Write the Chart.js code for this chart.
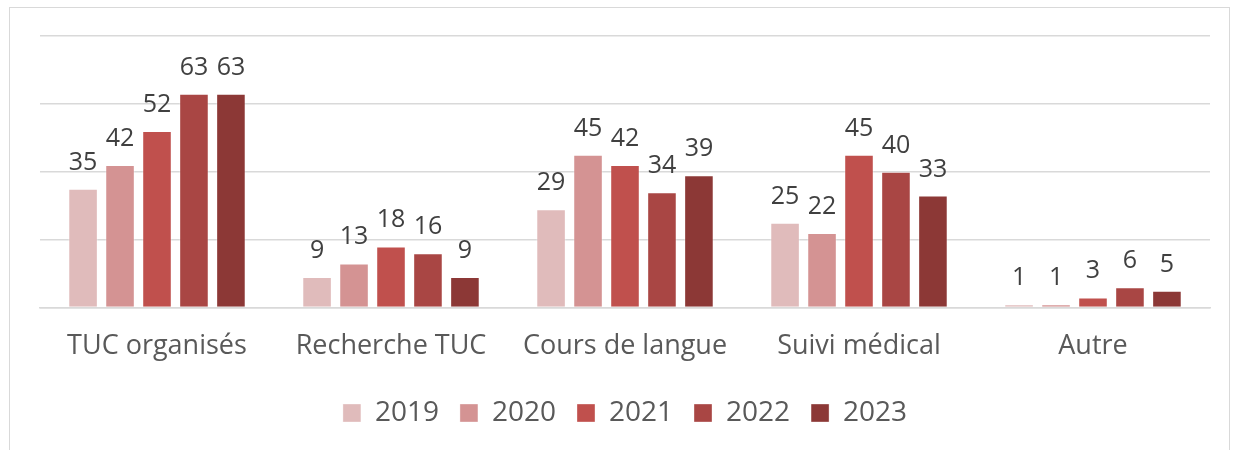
<!DOCTYPE html>
<html lang="fr">
<head>
<meta charset="utf-8">
<title>Accompagnement 2019-2023</title>
<script src="https://cdn.jsdelivr.net/npm/chart.js@4"></script>
<style>
  html, body { margin: 0; padding: 0; background: #fff; }
  .frame {
    position: absolute; left: 9px; top: 7px; width: 1219px; height: 460px;
    border-left: 1px solid #D9D9D9; border-top: 1px solid #D9D9D9; border-right: 1px solid #D9D9D9;
  }
  .wrap { position: absolute; left: 0; top: 0; width: 1235px; height: 450px; }
</style>
</head>
<body>
<div class="frame"></div>
<div class="wrap"><canvas id="chart" width="1235" height="450"></canvas></div>
<script>
//  DATA

const categories = ['TUC organisés', 'Recherche TUC', 'Cours de langue', 'Suivi médical', 'Autre'];
const years      = ['2019', '2020', '2021', '2022', '2023'];

const v2019 = [35,  9, 29, 25, 1];
const v2020 = [42, 13, 45, 22, 1];
const v2021 = [52, 18, 42, 45, 3];
const v2022 = [63, 16, 34, 40, 6];
const v2023 = [63,  9, 39, 33, 5];

const colours = ['#E0BBBB', '#D49393', '#C0504D', '#A94644', '#8C3836'];
const FONT    = 'Open Sans';

//  VALUE LABELS (drawn above each bar)

const valueLabels = {
  id: 'valueLabels',
  afterDatasetsDraw(chart) {
    const ctx = chart.ctx;
    ctx.save();
    ctx.font = `25px "${FONT}"`;
    ctx.fillStyle = '#404040';
    ctx.textAlign = 'center';
    ctx.textBaseline = 'alphabetic';
    chart.data.datasets.forEach((ds, i) => {
      chart.getDatasetMeta(i).data.forEach((bar, j) => {
        ctx.fillText(String(ds.data[j]), bar.x, bar.y - 19);
      });
    });
    ctx.restore();
  },
};

const series = [v2019, v2020, v2021, v2022, v2023];

new Chart(document.getElementById('chart'), {
  type: 'bar',
  data: {
    labels: categories,
    datasets: series.map((data, i) => ({
      label:           years[i],
      data,
      backgroundColor: colours[i],
      borderColor:     'rgba(255,255,255,0.35)',
      borderWidth:     1,
      categoryPercentage: 0.79,
      barPercentage:      0.8,
    })),
  },
  options: {
    responsive: false,
    animation:  false,
    layout: { padding: { left: 40, right: 25, top: 36, bottom: 13 } },
    plugins: {
      legend: {
        position: 'bottom',
        labels: {
          font:      { family: FONT, size: 28 },
          color:     '#595959',
          boxWidth:  18,
          boxHeight: 18,
          padding:   21,
        },
      },
      tooltip: { enabled: false },
    },
    scales: {
      x: {
        grid:   { display: false },
        border: { color: '#D9D9D9', width: 1.5 },
        ticks:  { font: { family: FONT, size: 27 }, color: '#595959', padding: 15 },
      },
      y: {
        min: 0, max: 80,
        ticks:  { display: false, stepSize: 20 },
        grid:   { color: '#D9D9D9', lineWidth: 1.5, drawTicks: false },
        border: { display: false },
      },
    },
  },
  plugins: [valueLabels],
});
</script>
</body>
</html>
